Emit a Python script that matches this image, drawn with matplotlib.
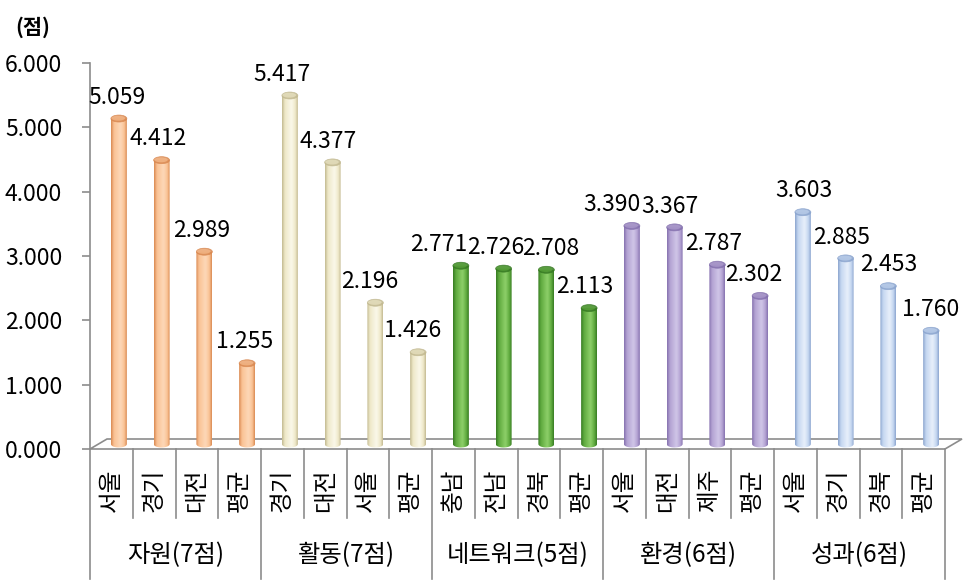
import numpy as np
import matplotlib
matplotlib.use("Agg")
import matplotlib.pyplot as plt
from matplotlib.path import Path
from matplotlib.patches import PathPatch, Ellipse, Polygon
from matplotlib.lines import Line2D
from matplotlib.colors import LinearSegmentedColormap
import matplotlib.transforms as mtrans

plt.rcParams['font.family'] = ['Noto Sans CJK KR', 'DejaVu Sans']

# ---------------- data ----------------
groups = ["자원(7점)", "활동(7점)", "네트워크(5점)", "환경(6점)", "성과(6점)"]
regions = [
    ["서울", "경기", "대전", "평균"],
    ["경기", "대전", "서울", "평균"],
    ["충남", "전남", "경북", "평균"],
    ["서울", "대전", "제주", "평균"],
    ["서울", "경기", "경북", "평균"],
]
values = [
    [5.059, 4.412, 2.989, 1.255],
    [5.417, 4.377, 2.196, 1.426],
    [2.771, 2.726, 2.708, 2.113],
    [3.390, 3.367, 2.787, 2.302],
    [3.603, 2.885, 2.453, 1.760],
]
yticks = [0, 1, 2, 3, 4, 5, 6]
unit_label = "(점)"

# ---------------- styles ----------------
group_colors = [
    ("#D98850", "#FAC294", "#FDD8B8"),   # orange (dark, base, light)
    ("#C2B990", "#EEE8C8", "#FBF8EA"),   # cream
    ("#367A22", "#5FAA3E", "#8ED06A"),   # green
    ("#8470AE", "#B3A2D2", "#D0C6E8"),   # purple
    ("#8AA4CE", "#C4D6F0", "#E8F0FB"),   # light blue
]
label_dx = [  # label nudges in pixels
    [-2, -4, -3, -3],
    [-8, -5, -6, -6],
    [-22, -8, 4, -4],
    [-20, -5, -4, -6],
    [1, -4, 0, 0],
]

W, H = 965, 582
fig = plt.figure(figsize=(W / 100, H / 100), dpi=100)
ax_left, ax_right, ax_bot, ax_top = 90, 945, 449, 63
ax = fig.add_axes([ax_left / W, 1 - ax_bot / H, (ax_right - ax_left) / W, (ax_bot - ax_top) / H])

flat_vals = [v for g in values for v in g]
flat_regions = [r for g in regions for r in g]
n = len(flat_vals)
xs = np.arange(n)

ax.set_xlim(-0.5, n - 0.5)
ax.set_ylim(0, 6)
ppx = (ax_right - ax_left) / n          # pixels per x unit
ppy = (ax_bot - ax_top) / 6.0           # pixels per y unit

depth_dx = 17 / ppx
depth_dy = 10 / ppy
bar_shift = 7.5 / ppx
bar_base = 5 / ppy
bar_w = 16 / ppx

# floor
floor = Polygon([(-0.5, 0), (n - 0.5, 0), (n - 0.5 + depth_dx, depth_dy), (-0.5 + depth_dx, depth_dy)],
                closed=True, facecolor="white", edgecolor="#8C8C8C", lw=1.2, clip_on=False, zorder=1)
ax.add_patch(floor)

bars = ax.bar(xs + bar_shift, flat_vals, width=bar_w, bottom=bar_base, alpha=0, zorder=2)

ell_h = 7 / ppy
k = 0
for gi, g in enumerate(values):
    dark, base, light = group_colors[gi]
    cmap = LinearSegmentedColormap.from_list("c%d" % gi, [(0, dark), (0.18, base), (0.6, light), (0.85, base), (1.0, dark)])
    grad = np.linspace(0, 1, 64).reshape(1, -1)
    for j, v in enumerate(g):
        r = bars[k]
        x0 = r.get_x()
        w = r.get_width()
        y0 = r.get_y()
        y1 = y0 + r.get_height()
        cx = x0 + w / 2
        t = np.linspace(np.pi, 2 * np.pi, 40)
        bx = cx + (w / 2) * np.cos(t)
        by = y0 + (ell_h / 2) * np.sin(t)
        verts = [(x0, y1)] + list(zip(bx, by)) + [(x0 + w, y1), (x0, y1)]
        codes = [Path.MOVETO] + [Path.LINETO] * (len(verts) - 2) + [Path.CLOSEPOLY]
        clip = PathPatch(Path(verts, codes), facecolor="none", edgecolor="none", transform=ax.transData)
        ax.add_patch(clip)
        im = ax.imshow(grad, cmap=cmap, aspect="auto", extent=[x0, x0 + w, y0 - ell_h, y1],
                       interpolation="bicubic", zorder=3)
        im.set_clip_path(clip)
        ax.add_patch(Ellipse((cx, y1), w, ell_h, facecolor=dark, edgecolor=dark, lw=0.5, zorder=4, alpha=0.85))
        ax.add_patch(Ellipse((cx - w * 0.04, y1 + ell_h * 0.05), w * 0.85, ell_h * 0.7, facecolor=base,
                             edgecolor="none", zorder=4, alpha=0.6))
        ax.annotate("%.3f" % v, xy=(cx, v), xytext=(label_dx[gi][j] * 0.72, 19), textcoords="offset points",
                    ha="center", va="center", fontsize=16.5, color="black", zorder=5)
        k += 1

ax.set_xlim(-0.5, n - 0.5)
ax.set_ylim(0, 6)

# axes styling
for s in ["top", "right", "bottom"]:
    ax.spines[s].set_visible(False)
ax.spines["left"].set_color("#8C8C8C")
ax.spines["left"].set_linewidth(1.2)
ax.set_yticks(yticks)
ax.set_yticklabels(["%.3f" % t for t in yticks])
ax.tick_params(axis="y", direction="out", length=6, width=1.2, color="#8C8C8C", pad=14, labelsize=16.5)
ax.set_xticks([])
ax.patch.set_visible(False)

fig.text(33 / W, 1 - 27 / H, unit_label, ha="center", va="center", fontsize=15, fontweight="bold")

# category table below
bt = mtrans.blended_transform_factory(ax.transData, fig.transFigure)
y_top_tab = 1 - 449 / H
y_mid_tab = 1 - 518 / H
y_bot_tab = 1 - 579 / H
for b in range(n + 1):
    xb = b - 0.5
    if b % 4 == 0:
        ln = Line2D([xb, xb], [y_top_tab, y_bot_tab], transform=bt, color="#8C8C8C", lw=1.2)
    else:
        ln = Line2D([xb, xb], [y_top_tab, y_mid_tab], transform=bt, color="#8C8C8C", lw=1.2)
    fig.add_artist(ln)

for i, name in enumerate(flat_regions):
    fig.text(i, 1 - 490 / H, name, transform=bt, rotation=90, ha="center", va="center", fontsize=17)

for gi, gname in enumerate(groups):
    cx = gi * 4 + 1.5
    fig.text(cx, 1 - 555 / H, gname, transform=bt, ha="center", va="center", fontsize=17.5)

fig.savefig("out.png", dpi=100)
